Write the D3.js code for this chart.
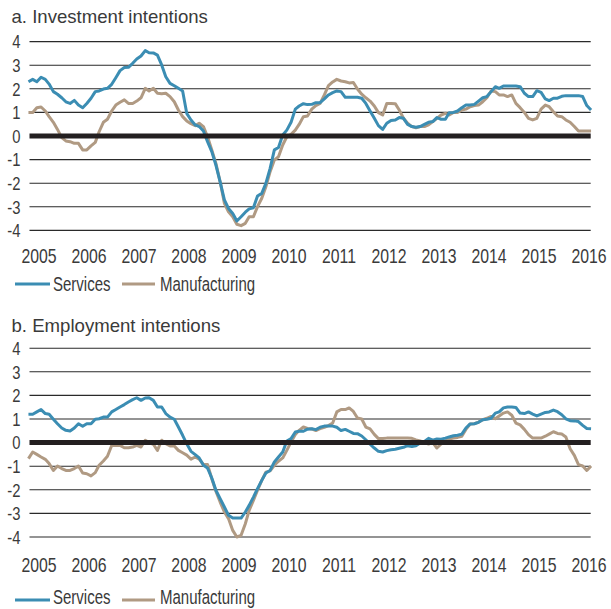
<!DOCTYPE html>
<html>
<head>
<meta charset="utf-8">
<script src="https://cdn.jsdelivr.net/npm/d3@7"></script>
<style>
  body { margin: 0; background: #fff; }
  svg text { font-family: 'Liberation Sans', Arial, sans-serif; fill: #3a3a3a; }
</style>
</head>
<body>
<div id="chart"></div>
<script>
// monthly observations, Oct 2004 .. Jan 2016
var firstMonth = new Date(2004, 9, 1);
var lastMonth = new Date(2016, 0, 1);
var yearTicks = [2005, 2006, 2007, 2008, 2009, 2010, 2011, 2012, 2013, 2014, 2015, 2016];
var valueTicks = [4, 3, 2, 1, 0, -1, -2, -3, -4];
var seriesNames = ["Services", "Manufacturing"];
var panelTitles = ["a. Investment intentions", "b. Employment intentions"];

var investServices = [
  2.30, 2.40, 2.30, 2.49, 2.40, 2.20, 1.88, 1.77, 1.62, 1.45,
  1.38, 1.51, 1.31, 1.20, 1.38, 1.60, 1.88, 1.91, 1.99, 2.02,
  2.19, 2.47, 2.77, 2.90, 2.91, 3.08, 3.26, 3.39, 3.62, 3.53,
  3.52, 3.43, 3.01, 2.51, 2.23, 2.13, 2.02, 1.91, 0.96, 0.68,
  0.47, 0.40, 0.21, -0.24, -0.66, -1.23, -1.94, -2.71, -3.07, -3.28,
  -3.60, -3.42, -3.23, -3.09, -3.04, -2.54, -2.43, -2.01, -1.37, -0.59,
  -0.49, 0.04, 0.25, 0.58, 1.14, 1.27, 1.37, 1.33, 1.34, 1.41,
  1.41, 1.57, 1.74, 1.84, 1.91, 1.88, 1.64, 1.64, 1.64, 1.64,
  1.60, 1.38, 1.06, 0.75, 0.44, 0.28, 0.54, 0.66, 0.68, 0.78,
  0.75, 0.49, 0.40, 0.37, 0.40, 0.49, 0.58, 0.61, 0.78, 0.71,
  0.71, 0.99, 1.00, 1.06, 1.20, 1.31, 1.31, 1.34, 1.48, 1.62,
  1.67, 1.88, 2.09, 2.02, 2.12, 2.12, 2.12, 2.12, 2.09, 1.81,
  1.67, 1.67, 1.92, 1.85, 1.57, 1.50, 1.60, 1.60, 1.68, 1.71,
  1.71, 1.71, 1.71, 1.67, 1.29, 1.10
];
var investManuf = [
  1.00, 1.00, 1.20, 1.23, 1.06, 0.82, 0.58, 0.28, -0.07, -0.21,
  -0.24, -0.31, -0.31, -0.59, -0.59, -0.42, -0.27, 0.18, 0.58, 0.71,
  1.06, 1.31, 1.43, 1.53, 1.38, 1.38, 1.48, 1.62, 2.02, 1.91,
  2.02, 1.81, 1.79, 1.81, 1.67, 1.45, 1.10, 0.82, 0.64, 0.52,
  0.44, 0.54, 0.40, -0.03, -0.59, -1.16, -1.94, -2.85, -3.21, -3.42,
  -3.74, -3.80, -3.70, -3.42, -3.42, -2.99, -2.64, -2.15, -1.51, -1.02,
  -0.88, -0.38, -0.03, 0.07, 0.25, 0.49, 0.82, 0.85, 1.14, 1.29,
  1.38, 1.74, 2.13, 2.29, 2.40, 2.33, 2.30, 2.25, 2.27, 1.99,
  1.77, 1.62, 1.48, 1.27, 0.99, 0.89, 1.38, 1.38, 1.37, 1.10,
  0.75, 0.54, 0.40, 0.35, 0.40, 0.40, 0.47, 0.61, 0.75, 0.89,
  0.96, 0.89, 1.00, 1.00, 1.10, 1.14, 1.24, 1.29, 1.31, 1.45,
  1.62, 1.91, 1.88, 1.74, 1.74, 1.67, 1.74, 1.38, 1.20, 1.00,
  0.75, 0.68, 0.75, 1.14, 1.31, 1.24, 1.03, 0.85, 0.82, 0.68,
  0.58, 0.40, 0.21, 0.21, 0.21, 0.21
];
var employServices = [
  1.20, 1.20, 1.30, 1.40, 1.23, 1.20, 0.99, 0.80, 0.62, 0.52,
  0.49, 0.62, 0.80, 0.69, 0.80, 0.80, 0.99, 1.01, 1.08, 1.08,
  1.30, 1.40, 1.51, 1.61, 1.72, 1.82, 1.90, 1.79, 1.89, 1.90,
  1.79, 1.51, 1.51, 1.23, 1.08, 0.99, 0.66, 0.31, -0.05, -0.37,
  -0.51, -0.65, -0.96, -1.08, -1.50, -2.02, -2.38, -2.73, -3.08, -3.20,
  -3.20, -3.20, -2.94, -2.66, -2.31, -1.95, -1.60, -1.29, -1.18, -0.82,
  -0.61, -0.40, 0.07, 0.17, 0.45, 0.48, 0.48, 0.57, 0.59, 0.55,
  0.65, 0.70, 0.70, 0.70, 0.65, 0.51, 0.56, 0.48, 0.39, 0.38,
  0.28, 0.12, -0.07, -0.23, -0.37, -0.40, -0.34, -0.30, -0.28, -0.24,
  -0.20, -0.13, -0.17, -0.13, -0.02, 0.05, 0.18, 0.10, 0.15, 0.14,
  0.19, 0.24, 0.29, 0.31, 0.36, 0.62, 0.79, 0.80, 0.86, 0.97,
  0.99, 1.03, 1.25, 1.30, 1.47, 1.51, 1.51, 1.49, 1.25, 1.23,
  1.30, 1.21, 1.13, 1.21, 1.28, 1.30, 1.38, 1.31, 1.18, 1.01,
  0.93, 0.92, 0.89, 0.73, 0.60, 0.59
];
var employManuf = [
  -0.68, -0.40, -0.50, -0.61, -0.71, -0.89, -1.18, -0.99, -1.10, -1.18,
  -1.18, -1.10, -0.99, -1.29, -1.32, -1.41, -1.27, -0.96, -0.78, -0.58,
  -0.12, -0.12, -0.12, -0.22, -0.22, -0.19, -0.12, -0.19, 0.10, 0.00,
  -0.07, -0.33, 0.10, -0.05, -0.14, -0.14, -0.33, -0.43, -0.53, -0.70,
  -0.61, -0.70, -0.93, -0.93, -1.53, -2.06, -2.52, -2.94, -3.22, -3.72,
  -4.00, -3.93, -3.44, -2.87, -2.45, -2.02, -1.60, -1.25, -1.20, -0.96,
  -0.79, -0.65, -0.33, 0.03, 0.34, 0.52, 0.66, 0.60, 0.58, 0.51,
  0.59, 0.65, 0.72, 0.83, 1.30, 1.40, 1.40, 1.47, 1.32, 1.04,
  1.00, 0.66, 0.58, 0.35, 0.17, 0.17, 0.19, 0.19, 0.19, 0.19,
  0.19, 0.19, 0.18, 0.11, 0.07, 0.00, -0.06, 0.00, -0.23, -0.06,
  0.07, 0.15, 0.19, 0.22, 0.27, 0.56, 0.79, 0.80, 0.87, 0.97,
  1.03, 1.11, 1.01, 1.13, 1.25, 1.30, 1.16, 0.83, 0.75, 0.56,
  0.34, 0.19, 0.19, 0.19, 0.27, 0.36, 0.46, 0.39, 0.36, 0.24,
  -0.26, -0.54, -0.93, -0.99, -1.18, -0.99
];

var colors = { Services: "#3b8db3", Manufacturing: "#b09a83" };

var width = 611, height = 609;

var svg = d3.select("#chart")
  .append("svg")
  .attr("width", width)
  .attr("height", height);

// no condensed font installed, so squeeze text horizontally
function placeText(sel, px, py, sx) {
  return sel.attr("transform", "translate(" + px + "," + py + ") scale(" + sx + ",1)");
}

// months, plotted mid-month
var months = d3.timeMonth.range(firstMonth, d3.timeMonth.offset(lastMonth, 1))
  .map(function(m) { return d3.timeDay.offset(m, 15); });

// shared x scale: year labels sit on 1 January
var x = d3.scaleTime()
  .domain([new Date(2005, 0, 1), new Date(2016, 0, 1)])
  .range([39, 589]);

var gridLeft = 29.5, gridRight = 590.7;

// panel layout (zero line position and label rows)
var panels = [
  { title: panelTitles[0], series: [investServices, investManuf], zero: 136, titleY: 23.3, tickY: 263, legendY: 284, legendTextY: 284 },
  { title: panelTitles[1], series: [employServices, employManuf], zero: 442.6, titleY: 331.7, tickY: 571.5, legendY: 600, legendTextY: 597 }
];

panels.forEach(function(p) {
  var y = d3.scaleLinear()
    .domain([-4, 4])
    .range([p.zero + 4 * 23.6, p.zero - 4 * 23.6]);

  var g = svg.append("g");

  // title
  placeText(g.append("text"), 11.5, p.titleY, 1)
    .attr("font-size", "18.6px")
    .text(p.title);

  // horizontal gridlines
  g.selectAll("line.grid")
    .data(valueTicks.filter(function(d) { return d !== 0; }))
    .enter().append("line")
    .attr("class", "grid")
    .attr("x1", gridLeft)
    .attr("x2", gridRight)
    .attr("y1", function(d) { return y(d); })
    .attr("y2", function(d) { return y(d); })
    .attr("stroke", "#2a2a2a")
    .attr("stroke-width", 1.1);

  // y labels
  g.selectAll("text.ylab")
    .data(valueTicks)
    .enter().append("text")
    .attr("class", "ylab")
    .each(function(d) { placeText(d3.select(this), 20.5, y(d), 0.78); })
    .attr("dy", "0.36em")
    .attr("text-anchor", "end")
    .attr("font-size", "19px")
    .text(function(d) { return d; });

  // x labels
  g.selectAll("text.xlab")
    .data(yearTicks)
    .enter().append("text")
    .attr("class", "xlab")
    .each(function(d) { placeText(d3.select(this), x(new Date(d, 0, 1)), p.tickY, 0.79); })
    .attr("text-anchor", "middle")
    .attr("font-size", "20px")
    .text(function(d) { return d; });

  var line = d3.line()
    .x(function(d, i) { return x(months[i]); })
    .y(function(d) { return y(d); });

  // series, manufacturing drawn under services
  [1, 0].forEach(function(s) {
    g.append("path")
      .datum(p.series[s])
      .attr("fill", "none")
      .attr("stroke", colors[seriesNames[s]])
      .attr("stroke-width", 3)
      .attr("stroke-linejoin", "round")
      .attr("d", line);
  });

  // thick zero line on top
  g.append("line")
    .attr("x1", gridLeft)
    .attr("x2", gridRight)
    .attr("y1", y(0))
    .attr("y2", y(0))
    .attr("stroke", "#231f20")
    .attr("stroke-width", 5);

  // legend
  var legendX = [[15, 50, 53], [122, 155, 160]];
  seriesNames.forEach(function(name, i) {
    g.append("line")
      .attr("x1", legendX[i][0])
      .attr("x2", legendX[i][1])
      .attr("y1", p.legendY)
      .attr("y2", p.legendY)
      .attr("stroke", colors[name])
      .attr("stroke-width", 3);
    placeText(g.append("text"), legendX[i][2], p.legendTextY, 0.77)
      .attr("dy", "0.36em")
      .attr("font-size", "19.5px")
      .text(name);
  });
});
</script>
</body>
</html>
